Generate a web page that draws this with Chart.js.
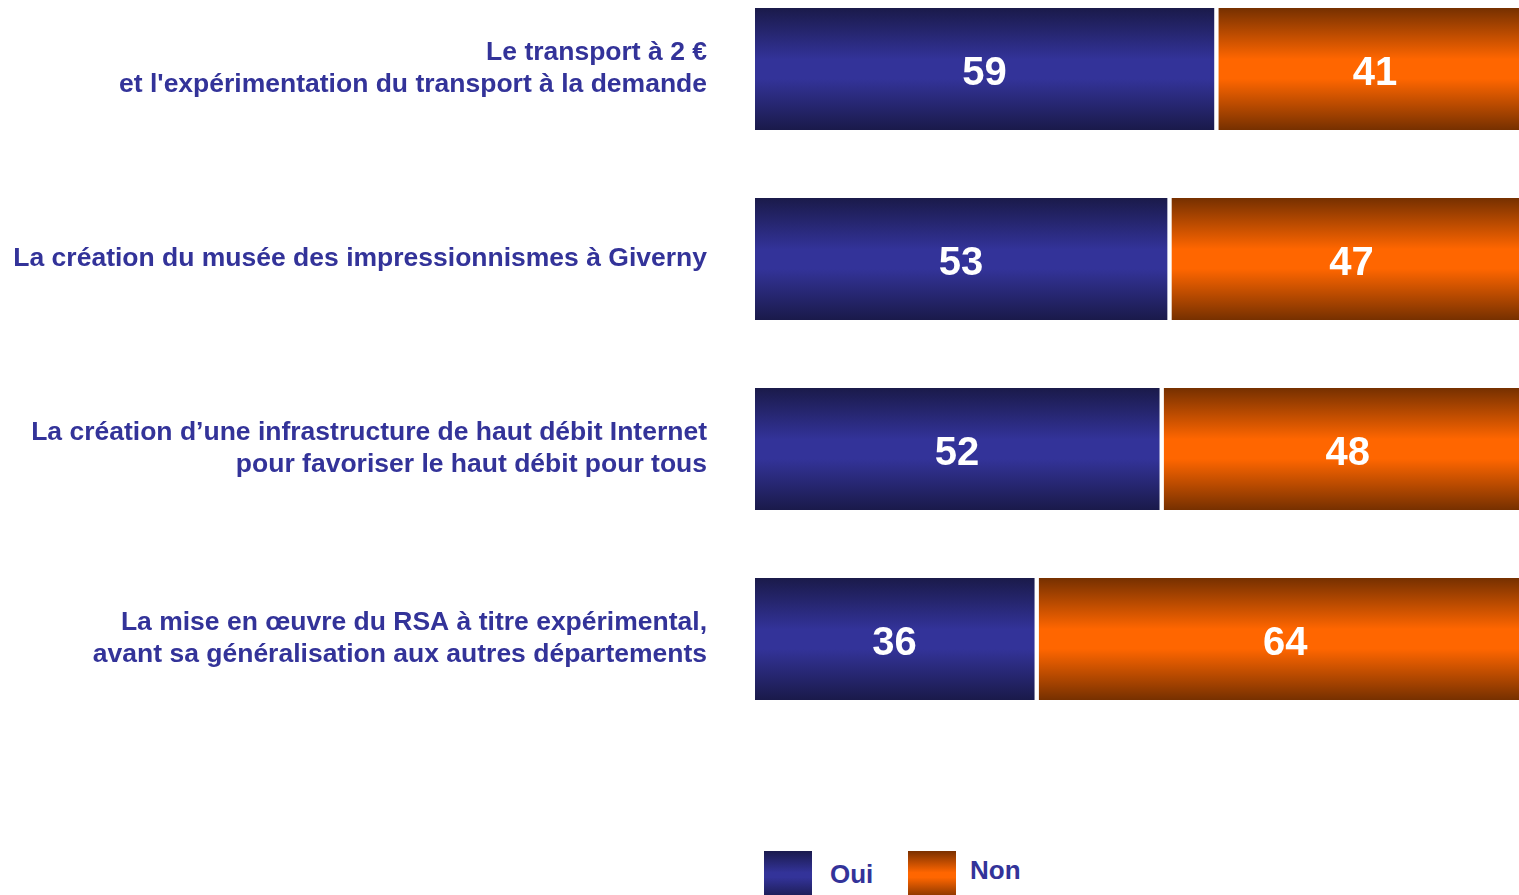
<!DOCTYPE html>
<html>
<head>
<meta charset="utf-8">
<script src="https://cdn.jsdelivr.net/npm/chart.js@4.4.1/dist/chart.umd.min.js"></script>
<style>
  body { margin: 0; background: #fff; overflow: hidden; width: 1519px; height: 895px; position: relative; font-family: "Liberation Sans", Arial, sans-serif; }
  #wrap { position: absolute; left: 0; top: -26px; width: 1519px; height: 760px; }
  .legend { position: absolute; font-weight: bold; font-size: 26px; color: #333399; }
  .box { position: absolute; width: 48px; height: 48px; }
</style>
</head>
<body>
<div id="wrap"><canvas id="chart"></canvas></div>
<div class="box" style="left:764px; top:851px; background:linear-gradient(#1a1a4d, #333399 45%, #333399 55%, #1a1a4d);"></div>
<div class="legend" style="left:830px; top:859px;">Oui</div>
<div class="box" style="left:908px; top:851px; background:linear-gradient(#7a3000, #ff6600 45%, #ff6600 55%, #7a3000);"></div>
<div class="legend" style="left:970px; top:855px;">Non</div>
<script>
const labels = [
    ['Le transport à 2 €', "et l'expérimentation du transport à la demande"],
    'La création du musée des impressionnismes à Giverny',
    ['La création d\u2019une infrastructure de haut débit Internet', 'pour favoriser le haut débit pour tous'],
    ['La mise en \u0153uvre du RSA à titre expérimental,', 'avant sa généralisation aux autres départements'],
];
const oui = [59, 53, 52, 36];
const non = [41, 47, 48, 64];

const barHeight = 122;

function gradientFor(dark, light, fallback) {
    return (ctx) => {
        const chart = ctx.chart;
        const y = chart.scales && chart.scales.y;
        if (ctx.type !== 'data' || !y) return fallback;
        const c = y.getPixelForValue(ctx.dataIndex);
        if (!isFinite(c)) return fallback;
        const g = chart.ctx.createLinearGradient(0, c - barHeight / 2, 0, c + barHeight / 2);
        g.addColorStop(0, dark);
        g.addColorStop(0.42, light);
        g.addColorStop(0.58, light);
        g.addColorStop(1, dark);
        return g;
    };
}

// draws the numbers in the middle of each segment
const valueLabels = {
    id: 'valueLabels',
    afterDatasetsDraw(chart) {
        const c = chart.ctx;
        c.save();
        c.font = 'bold 40px "Liberation Sans", Arial, sans-serif';
        c.fillStyle = '#ffffff';
        c.textAlign = 'center';
        c.textBaseline = 'middle';
        chart.data.datasets.forEach((ds, i) => {
            chart.getDatasetMeta(i).data.forEach((bar, j) => {
                const p = bar.getProps(['x', 'y', 'base'], true);
                c.fillText(ds.data[j], (p.x + p.base) / 2 - 1, p.y + 5);
            });
        });
        c.restore();
    }
};

const ctx = document.getElementById('chart').getContext('2d');

const chart = new Chart(ctx, {
    type: 'bar',
    data: {
        labels: labels,
        datasets: [{
            label: 'Oui',
            data: oui,
            backgroundColor: gradientFor('#1a1a4a', '#333399', '#333399'),
            borderColor: '#ffffff',
            borderWidth: { right: 2, left: 0, top: 0, bottom: 0 },
            borderSkipped: false,
            barThickness: barHeight,
        }, {
            label: 'Non',
            data: non,
            backgroundColor: gradientFor('#763000', '#ff6600', '#ff6600'),
            borderColor: '#ffffff',
            borderWidth: { left: 3, right: 0, top: 0, bottom: 0 },
            borderSkipped: false,
            barThickness: barHeight,
        }]
    },
    options: {
        indexAxis: 'y',
        responsive: true,
        maintainAspectRatio: false,
        animation: false,
        layout: { padding: 0 },
        plugins: {
            legend: { display: false },
            tooltip: { enabled: false },
        },
        scales: {
            x: {
                stacked: true,
                display: false,
                min: 0,
                max: 97.8,
            },
            y: {
                stacked: true,
                grid: { display: false, drawTicks: false },
                border: { display: false },
                afterFit: (scale) => {
                    scale.width = 755;
                    scale.paddingTop = 0;
                    scale.paddingBottom = 0;
                },
                ticks: {
                    padding: 48,
                    color: '#333399',
                    font: { family: '"Liberation Sans", Arial, sans-serif', size: 26.5, weight: 'bold', lineHeight: 1.21 },
                },
            },
        },
    },
    plugins: [valueLabels],
});
chart.update();
</script>
</body>
</html>
